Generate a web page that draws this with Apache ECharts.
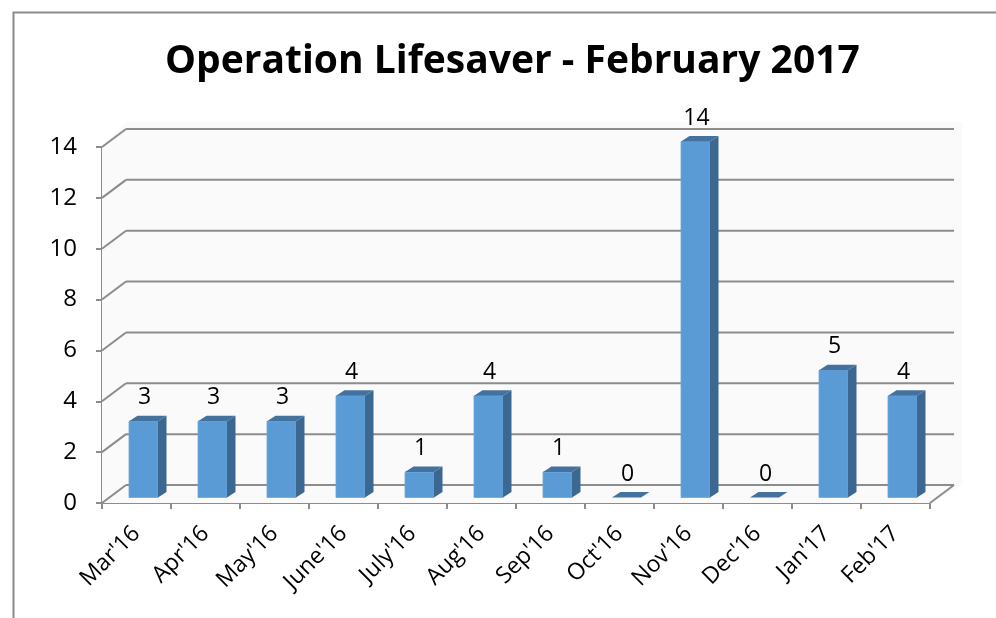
<!DOCTYPE html>
<html>
<head>
<meta charset="utf-8">
<script src="https://cdn.jsdelivr.net/npm/echarts@6/dist/echarts.min.js"></script>
<style>
  html, body { margin: 0; padding: 0; background: #fff; }
  #chart { width: 996px; height: 618px; }
</style>
</head>
<body>
<div id="chart"></div>
<script>
// data
const months = ["Mar'16", "Apr'16", "May'16", "June'16", "July'16", "Aug'16", "Sep'16", "Oct'16", "Nov'16", "Dec'16", "Jan'17", "Feb'17"]
const counts = [3, 3, 3, 4, 1, 4, 1, 0, 14, 0, 5, 4]
const yTicks = [0, 2, 4, 6, 8, 10, 12, 14]

// fake 3d look (excel style)
const wallDx = 24, wallDy = -18   // back wall offset
const barDx = 7, barDy = -5.5     // bar front face sits a bit inside
const topDx = 8.5, topDy = -5.5   // bar depth
const fontFam = '"Open Sans", Lato, sans-serif'
const axisGray = '#8c8c8c'

const chart = echarts.init(document.getElementById('chart'))

// back wall, gridlines and diagonals
const renderFrame = (params, api) => {
  const cs = params.coordSys
  const v = api.value(0)
  const y = api.coord([0, v])[1]
  const children = []
  const ls = { stroke: axisGray, lineWidth: 2 }
  if (params.dataIndex === 0) {
    const top = api.coord([0, yTicks[yTicks.length - 1]])[1]
    children.push({
      type: 'polygon', silent: true,
      shape: { points: [[cs.x, y], [cs.x, top], [cs.x + wallDx, top + wallDy - 7], [cs.x + cs.width + wallDx + 8, top + wallDy - 7], [cs.x + cs.width + wallDx + 8, y + wallDy], [cs.x + cs.width, y]] },
      style: { fill: '#fafafa' }
    })
    // floor right edge
    children.push({ type: 'line', shape: { x1: cs.x + cs.width, y1: y, x2: cs.x + cs.width + wallDx, y2: y + wallDy }, style: ls })
  }
  children.push({ type: 'line', shape: { x1: cs.x, y1: y, x2: cs.x + wallDx, y2: y + wallDy }, style: ls })
  children.push({ type: 'line', shape: { x1: cs.x + wallDx, y1: y + wallDy, x2: cs.x + cs.width + wallDx, y2: y + wallDy }, style: ls })
  return { type: 'group', children }
}

const renderBar = (params, api) => {
  const i = api.value(0)
  const v = api.value(1)
  const p0 = api.coord([i, 0])
  const p1 = api.coord([i, v])
  const w = api.size([1, 0])[0] * 0.42
  const x0 = p0[0] + barDx - w / 2
  const x1 = x0 + w
  const yb = p0[1] + barDy
  const yt = p1[1] + barDy
  const children = []
  if (v > 0) {
    children.push({ type: 'rect', shape: { x: x0, y: yt, width: w, height: yb - yt }, style: { fill: '#5b9bd5', stroke: '#6aa6dc', lineWidth: 0.8 } })
    children.push({ type: 'polygon', shape: { points: [[x1, yt], [x1 + topDx, yt + topDy], [x1 + topDx, yb + topDy], [x1, yb]] }, style: { fill: '#3c6791' } })
  }
  children.push({ type: 'polygon', shape: { points: [[x0, yt], [x1, yt], [x1 + topDx, yt + topDy], [x0 + topDx, yt + topDy]] }, style: { fill: '#43729f' } })
  children.push({
    type: 'text',
    style: { text: String(v), x: (x0 + x1) / 2 + 1, y: yt - 12, align: 'center', verticalAlign: 'bottom', font: '23px ' + fontFam, fill: '#000' }
  })
  return { type: 'group', children }
}

chart.setOption({
  animation: false,
  backgroundColor: '#fff',
  title: {
    text: 'Operation Lifesaver - February 2017',
    left: 160,
    top: 37,
    textStyle: { fontFamily: fontFam, fontSize: 39, fontWeight: 'bold', color: '#000' }
  },
  graphic: [{
    type: 'rect', left: 11, top: 10,
    shape: { width: 1000, height: 620 },
    style: { fill: 'none', stroke: axisGray, lineWidth: 2 }
  }],
  grid: { left: 102, right: 66, top: 147, bottom: 115 },
  xAxis: {
    type: 'category',
    data: months,
    boundaryGap: true,
    axisLine: { lineStyle: { color: axisGray, width: 2 } },
    axisTick: { show: true, length: 6, lineStyle: { color: axisGray, width: 2 } },
    axisLabel: { rotate: 45, margin: 27, fontSize: 23, fontFamily: fontFam, color: '#000', interval: 0 },
    splitLine: { show: false }
  },
  yAxis: {
    type: 'value',
    min: 0, max: 14, interval: 2,
    axisLine: { show: true, lineStyle: { color: axisGray, width: 2 } },
    axisTick: { show: true, length: 6, lineStyle: { color: axisGray, width: 2 } },
    axisLabel: { margin: 25, fontSize: 24, fontFamily: fontFam, color: '#000' },
    splitLine: { show: false }
  },
  series: [
    {
      name: 'frame',
      type: 'custom',
      renderItem: renderFrame,
      data: yTicks.map(t => [t]),
      encode: { y: 0 },
      clip: false,
      silent: true,
      z: 1
    },
    {
      name: 'count',
      type: 'custom',
      renderItem: renderBar,
      data: counts.map((c, i) => [i, c]),
      encode: { x: 0, y: 1 },
      clip: false,
      z: 3
    }
  ]
})
</script>
</body>
</html>
